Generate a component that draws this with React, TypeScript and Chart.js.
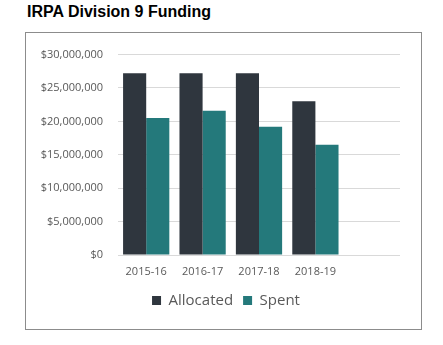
import React, { useEffect, useRef } from "react";
import { Chart, registerables } from "chart.js";

Chart.register(...registerables);

const categories = ["2015-16", "2016-17", "2017-18", "2018-19", ""];
const allocated = [27200000, 27200000, 27200000, 23000000, null];
const spent = [20500000, 21600000, 19200000, 16500000, null];
const yTicks = [0, 5000000, 10000000, 15000000, 20000000, 25000000, 30000000];

const fmt = (v: number) => "$" + v.toLocaleString("en-US");

export default function App() {
  const ref = useRef<HTMLCanvasElement>(null);
  useEffect(() => {
    document.body.style.margin = "0";
    const chart = new Chart(ref.current!, {
      type: "bar",
      data: {
        labels: categories,
        datasets: [
          { label: "Allocated", data: allocated as any, backgroundColor: "#2f363e" },
          { label: "Spent", data: spent as any, backgroundColor: "#24797b" },
        ],
      },
      options: {
        animation: false,
        responsive: false,
        maintainAspectRatio: false,
        layout: { padding: { top: 20, right: 0, bottom: 11, left: 5 } },
        datasets: { bar: { categoryPercentage: 0.82, barPercentage: 1.0 } },
        scales: {
          x: {
            afterFit: (s: any) => { s.height = 28; },
            grid: { display: false, drawTicks: false },
            border: { display: false },
            ticks: {
              color: "#595959",
              font: { family: "'Open Sans'", size: 11 },
              padding: 10,
              maxRotation: 0,
            },
          },
          y: {
            min: 0,
            max: 30000000,
            afterFit: (s: any) => { s.width = 87; },
            afterBuildTicks: (s: any) => { s.ticks = yTicks.map((v) => ({ value: v })); },
            grid: { color: "#d9d9d9", drawTicks: false, lineWidth: 1 },
            border: { display: false },
            ticks: {
              color: "#595959",
              font: { family: "'Open Sans'", size: 11 },
              padding: 15,
              callback: (v: any) => fmt(Number(v)),
            },
          },
          y2: {
            position: "right",
            min: 0,
            max: 30000000,
            afterFit: (s: any) => { s.width = 21; },
            grid: { display: false, drawTicks: false },
            border: { display: false },
            ticks: { display: false },
          },
        },
        plugins: {
          tooltip: { enabled: false },
          legend: {
            position: "bottom",
            labels: {
              color: "#595959",
              font: { family: "'Open Sans'", size: 15 },
              boxWidth: 9,
              boxHeight: 9,
              padding: 10,
            },
          },
        },
      },
    });
    return () => chart.destroy();
  }, []);
  return (
    <div style={{ position: "relative", width: 443, height: 345, background: "#fff" }}>
      <div
        style={{
          position: "absolute",
          left: 27,
          top: 4,
          font: "bold 16px 'Liberation Sans', Arial, sans-serif",
          lineHeight: "16px",
          color: "#000",
          whiteSpace: "nowrap",
        }}
      >
        IRPA Division 9 Funding
      </div>
      <div
        style={{
          position: "absolute",
          left: 25,
          top: 32,
          width: 395,
          height: 296,
          border: "1px solid #8c8c8c",
        }}
      >
        <canvas ref={ref} width={395} height={296} style={{ display: "block" }} />
      </div>
    </div>
  );
}
